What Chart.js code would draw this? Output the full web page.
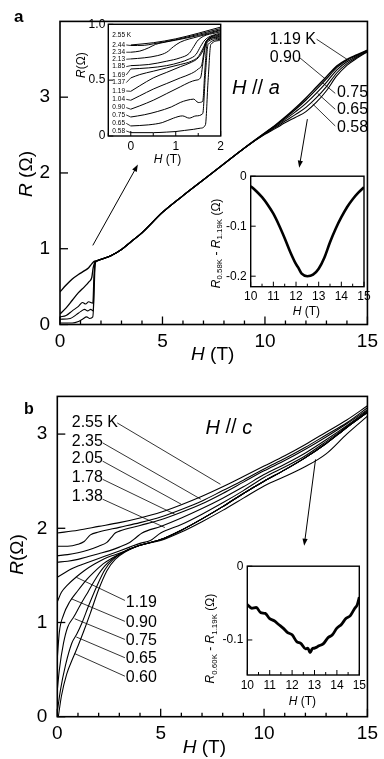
<!DOCTYPE html>
<html>
<head>
<meta charset="utf-8">
<script src="https://cdn.jsdelivr.net/npm/chart.js@4.4.0/dist/chart.umd.min.js"></script>
<style>
html, body { margin: 0; padding: 0; background: #fff; }
#fig { position: relative; width: 384px; height: 759px; overflow: hidden; background: #fff; }
#fig canvas { position: absolute; }
</style>
</head>
<body>
<div id="fig"></div>
<script>
// ---------- panel a, main plot (H // a) ----------
const aLowH_119 = [0, 0.3, 0.6, 0.9, 1.2, 1.4, 1.55, 1.65]
const aLowR_119 = [0.43, 0.52, 0.6, 0.66, 0.71, 0.75, 0.8, 0.83]
const aLowH_090 = [0, 0.3, 0.6, 0.9, 1.2, 1.4, 1.55, 1.62, 1.7]
const aLowR_090 = [0.14, 0.22, 0.32, 0.42, 0.5, 0.56, 0.62, 0.75, 0.82]
const aLowH_075 = [0, 0.3, 0.6, 0.9, 1.1, 1.25, 1.4, 1.6, 1.65, 1.7]
const aLowR_075 = [0.1, 0.12, 0.18, 0.24, 0.29, 0.27, 0.3, 0.28, 0.6, 0.8]
const aLowH_065 = [0, 0.5, 0.8, 1.0, 1.2, 1.35, 1.5, 1.62, 1.66, 1.72]
const aLowR_065 = [0.07, 0.08, 0.13, 0.17, 0.2, 0.18, 0.2, 0.18, 0.55, 0.82]
const aLowH_058 = [0, 0.6, 0.9, 1.1, 1.3, 1.45, 1.6, 1.65, 1.72]
const aLowR_058 = [0.02, 0.02, 0.04, 0.07, 0.1, 0.08, 0.1, 0.3, 0.8]
// common part, all temperatures
const aMidH = [1.8, 2.0, 2.5, 3, 3.5, 4, 5, 6, 7, 8, 9]
const aMidR = [0.84, 0.86, 0.91, 0.99, 1.1, 1.21, 1.48, 1.7, 1.91, 2.12, 2.33]
// high field split
const aHighH = [10, 10.5, 11, 11.5, 12, 12.5, 13, 13.5, 14, 14.5, 15]
const aHighR_119 = [2.53, 2.63, 2.74, 2.86, 2.99, 3.13, 3.27, 3.41, 3.5, 3.56, 3.62]
const aHighR_090 = [2.527, 2.623, 2.729, 2.841, 2.963, 3.1, 3.242, 3.39, 3.488, 3.553, 3.617]
const aHighR_075 = [2.522, 2.612, 2.71, 2.81, 2.919, 3.05, 3.196, 3.358, 3.467, 3.541, 3.611]
const aHighR_065 = [2.516, 2.599, 2.688, 2.773, 2.866, 2.99, 3.14, 3.319, 3.442, 3.527, 3.605]
const aHighR_058 = [2.51, 2.585, 2.665, 2.735, 2.81, 2.93, 3.085, 3.28, 3.42, 3.515, 3.6]
const aLabels = ['1.19 K', '0.90', '0.75', '0.65', '0.58']

// ---------- panel a, low-field inset ----------
const inTemps = ['2.55 K', '2.44', '2.34', '2.13', '1.85', '1.69', '1.37', '1.19', '1.04', '0.90', '0.75', '0.65', '0.58']
const inLabelR = [0.905, 0.815, 0.75, 0.687, 0.621, 0.547, 0.478, 0.403, 0.328, 0.254, 0.188, 0.113, 0.045]
const inH = [
  [0, 0.5, 1, 1.5, 2],
  [0, 0.3, 0.5, 1, 1.5, 2],
  [0, 0.2, 0.4, 0.55, 0.7, 1, 1.5, 2],
  [0, 0.3, 0.6, 0.8, 0.95, 1.1, 1.5, 2],
  [0, 0.4, 0.8, 1.1, 1.3, 1.4, 1.5, 2],
  [0, 0.4, 0.8, 1.1, 1.3, 1.45, 1.55, 1.65, 2],
  [0, 0.2, 0.5, 0.8, 1.1, 1.35, 1.5, 1.6, 1.7, 2],
  [0, 0.2, 0.5, 0.8, 1.1, 1.35, 1.5, 1.6, 1.68, 2],
  [0, 0.2, 0.5, 0.8, 1.1, 1.35, 1.5, 1.58, 1.64, 1.7, 2],
  [0, 0.2, 0.5, 0.8, 1.1, 1.3, 1.45, 1.55, 1.62, 1.68, 2],
  [0, 0.3, 0.6, 0.9, 1.1, 1.25, 1.4, 1.5, 1.6, 1.65, 1.7, 2],
  [0, 0.4, 0.7, 0.95, 1.15, 1.3, 1.45, 1.6, 1.66, 1.72, 2],
  [0, 0.5, 0.8, 1.0, 1.2, 1.4, 1.55, 1.66, 1.72, 1.78, 2]
]
const inR = [
  [0.815, 0.835, 0.87, 0.92, 0.975],
  [0.81, 0.812, 0.825, 0.862, 0.91, 0.962],
  [0.75, 0.76, 0.79, 0.82, 0.835, 0.858, 0.9, 0.952],
  [0.69, 0.7, 0.72, 0.75, 0.8, 0.84, 0.89, 0.945],
  [0.63, 0.64, 0.67, 0.7, 0.74, 0.8, 0.86, 0.935],
  [0.6, 0.61, 0.63, 0.66, 0.69, 0.73, 0.8, 0.86, 0.925],
  [0.52, 0.55, 0.58, 0.61, 0.64, 0.67, 0.71, 0.78, 0.86, 0.915],
  [0.4, 0.45, 0.52, 0.57, 0.62, 0.66, 0.7, 0.76, 0.85, 0.905],
  [0.32, 0.36, 0.42, 0.47, 0.52, 0.56, 0.6, 0.64, 0.78, 0.85, 0.895],
  [0.24, 0.27, 0.32, 0.38, 0.44, 0.48, 0.5, 0.52, 0.7, 0.85, 0.885],
  [0.17, 0.19, 0.22, 0.26, 0.3, 0.32, 0.33, 0.3, 0.31, 0.6, 0.84, 0.875],
  [0.09, 0.1, 0.12, 0.16, 0.18, 0.16, 0.18, 0.2, 0.55, 0.82, 0.865],
  [0.03, 0.03, 0.035, 0.04, 0.05, 0.06, 0.07, 0.1, 0.5, 0.82, 0.855]
]

// ---------- panel a, difference inset ----------
const dAH = [10, 10.25, 10.5, 10.75, 11, 11.25, 11.5, 11.75, 12, 12.1, 12.25, 12.5, 12.75, 13, 13.25, 13.5, 13.75, 14, 14.25, 14.5, 14.75, 15]
const dAR = [-0.02, -0.03, -0.042, -0.057, -0.075, -0.098, -0.124, -0.152, -0.176, -0.183, -0.195, -0.2, -0.197, -0.185, -0.163, -0.132, -0.105, -0.082, -0.062, -0.046, -0.033, -0.022]

// ---------- panel b, main plot (H // c) ----------
const bH255 = [0, 1, 2, 3, 4, 5, 6, 7, 8, 9, 10, 11, 12, 13, 14, 15]
const bR255 = [1.95, 1.98, 2.02, 2.06, 2.11, 2.17, 2.25, 2.34, 2.44, 2.55, 2.66, 2.77, 2.89, 3.02, 3.15, 3.3]
const bH235 = [0, 0.5, 1, 1.3, 1.6, 2, 3, 4, 5, 6, 7, 8, 9, 10, 11, 12, 13, 14, 15]
const bR235 = [1.81, 1.81, 1.83, 1.86, 1.93, 1.96, 2.01, 2.06, 2.12, 2.2, 2.29, 2.4, 2.51, 2.63, 2.74, 2.86, 2.99, 3.12, 3.28]
const bH205 = [0, 0.5, 1, 1.5, 2, 2.4, 2.6, 2.8, 3, 4, 5, 6, 7, 8, 9, 10, 11, 12, 13, 14, 15]
const bR205 = [1.71, 1.72, 1.74, 1.77, 1.81, 1.85, 1.9, 1.95, 1.97, 2.03, 2.09, 2.17, 2.26, 2.37, 2.49, 2.61, 2.72, 2.84, 2.97, 3.11, 3.26]
const bH178 = [0, 0.5, 1, 1.5, 2, 2.5, 3, 3.5, 3.8, 4.1, 5, 6, 7, 8, 9, 10, 11, 12, 13, 14, 15]
const bR178 = [1.64, 1.65, 1.67, 1.7, 1.73, 1.76, 1.8, 1.85, 1.9, 1.95, 2.02, 2.11, 2.21, 2.32, 2.44, 2.57, 2.68, 2.8, 2.94, 3.09, 3.25]
const bH138 = [0, 0.3, 0.6, 1, 1.5, 2, 2.5, 3, 3.5, 4, 4.5, 5, 6, 7, 8, 9, 10, 11, 12, 13, 14, 15]
const bR138 = [1.48, 1.52, 1.56, 1.6, 1.64, 1.68, 1.72, 1.76, 1.8, 1.84, 1.87, 1.95, 2.04, 2.15, 2.27, 2.4, 2.54, 2.65, 2.77, 2.92, 3.08, 3.24]
const bH119 = [0, 0.2, 0.5, 0.9, 1.3, 1.8, 2.3, 2.8, 3.3, 4]
const bR119 = [1.22, 1.32, 1.4, 1.48, 1.55, 1.62, 1.68, 1.72, 1.76, 1.82]
const bH090 = [0, 0.1, 0.3, 0.6, 1, 1.4, 1.8, 2.2, 2.7, 3.3, 4]
const bR090 = [0.62, 0.9, 1.08, 1.22, 1.34, 1.45, 1.54, 1.62, 1.69, 1.76, 1.82]
const bH075 = [0, 0.1, 0.3, 0.5, 0.8, 1.1, 1.5, 1.9, 2.3, 2.7, 3.3, 4]
const bR075 = [0.28, 0.5, 0.78, 0.95, 1.06, 1.18, 1.33, 1.48, 1.6, 1.68, 1.76, 1.82]
const bH065 = [0, 0.15, 0.4, 0.7, 0.95, 1.2, 1.5, 1.9, 2.3, 2.7, 3.3, 4]
const bR065 = [0.05, 0.28, 0.55, 0.78, 0.88, 1.0, 1.17, 1.38, 1.56, 1.67, 1.76, 1.82]
const bH060 = [0.05, 0.2, 0.45, 0.75, 1.0, 1.3, 1.6, 2.0, 2.4, 2.8, 3.3, 4]
const bR060 = [0, 0.22, 0.45, 0.62, 0.75, 0.92, 1.1, 1.35, 1.55, 1.67, 1.75, 1.82]
// common high-field band for T <= 1.19 K
const bBandH = [5, 6, 7, 8, 9, 10, 11, 12, 13, 14, 15]
const bBandR = [1.88, 1.98, 2.1, 2.23, 2.37, 2.5, 2.62, 2.75, 2.9, 3.07, 3.23]
const bTailR060 = [1.87, 1.96, 2.07, 2.19, 2.32, 2.45, 2.55, 2.655, 2.79, 3.0, 3.19]
const bLabelsHi = ['2.55 K', '2.35', '2.05', '1.78', '1.38']
const bLabelsLo = ['1.19', '0.90', '0.75', '0.65', '0.60']

// ---------- panel b, difference inset ----------
const dBH = [10.0, 10.2, 10.4, 10.6, 10.8, 11.0, 11.2, 11.4, 11.6, 11.8, 12.0, 12.2, 12.4, 12.6, 12.7, 12.8, 12.9, 13.0, 13.2, 13.4, 13.6, 13.8, 14.0, 14.2, 14.4, 14.6, 14.8, 14.9, 15.0]
const dBR = [-0.052, -0.057, -0.056, -0.063, -0.064, -0.071, -0.074, -0.079, -0.084, -0.09, -0.093, -0.102, -0.105, -0.112, -0.111, -0.117, -0.112, -0.111, -0.108, -0.105, -0.097, -0.093, -0.084, -0.079, -0.071, -0.067, -0.057, -0.053, -0.042]

// tick values
const mainXTicks = [0, 5, 10, 15]
const mainXMinor = [1, 2, 3, 4, 6, 7, 8, 9, 11, 12, 13, 14]
const mainYTicks = [0, 1, 2, 3]
const inAXTicks = [0, 1, 2]
const inAXMinor = [-0.5, 0.5, 1.5]
const inAYTicks = [0, 0.5, 1.0]
const diffXTicks = [10, 11, 12, 13, 14, 15]
const diffXMinor = [10.5, 11.5, 12.5, 13.5, 14.5]
const diffAYTicks = [0, -0.1, -0.2]
const diffBYTicks = [0, -0.1]

const FONT = '"Liberation Sans", Arial, Helvetica, sans-serif'
Chart.defaults.font.family = FONT
Chart.defaults.color = '#000'

function pts(H, R) { return H.map((h, i) => ({x: h, y: R[i]})) }
function ds(H, R, w) {
  return {data: pts(H, R), borderColor: '#000', borderWidth: w, pointRadius: 0,
    fill: false, cubicInterpolationMode: 'monotone'}
}

// text with italics / subscripts
function rich(ctx, segs, size, x, y, rot, align) {
  ctx.save()
  ctx.translate(x, y)
  ctx.rotate(rot || 0)
  const parts = segs.map(s => {
    const sz = s.sub ? size * 0.66 : size
    const f = (s.i ? 'italic ' : '') + (s.b ? 'bold ' : '') + sz + 'px ' + FONT
    ctx.font = f
    return {s: s, f: f, w: ctx.measureText(s.t).width, dy: s.sub ? size * 0.3 : 0}
  })
  const total = parts.reduce((a, p) => a + p.w, 0)
  let cx = align === 'left' ? 0 : (align === 'right' ? -total : -total / 2)
  ctx.textBaseline = 'middle'
  ctx.textAlign = 'left'
  ctx.fillStyle = '#000'
  parts.forEach(p => { ctx.font = p.f; ctx.fillText(p.s.t, cx, p.dy); cx += p.w })
  ctx.restore()
}
const txt = t => [{t: t}]
const HT = [{t: 'H', i: true}, {t: ' (T)'}]

const cfgs = {}
const deco = {
  id: 'deco',
  beforeDatasetsDraw(chart) {
    const L = cfgs[chart.canvas.id]
    if (!L.white) return
    const a = chart.chartArea, ctx = chart.ctx
    ctx.save(); ctx.fillStyle = '#fff'
    ctx.fillRect(a.left, a.top, a.right - a.left, a.bottom - a.top)
    ctx.restore()
  },
  afterDraw(chart) {
    const L = cfgs[chart.canvas.id]
    const ctx = chart.ctx, a = chart.chartArea
    const X = v => chart.scales.x.getPixelForValue(v)
    const Y = v => chart.scales.y.getPixelForValue(v)
    ctx.save()
    ctx.strokeStyle = '#000'
    ctx.fillStyle = '#000'
    ctx.lineWidth = L.frame
    ctx.strokeRect(a.left, a.top, a.right - a.left, a.bottom - a.top)
    ctx.lineWidth = L.tickW
    function tk(vals, len, isX) {
      (vals || []).forEach(v => {
        ctx.beginPath()
        if (isX) { const p = X(v); ctx.moveTo(p, a.bottom); ctx.lineTo(p, a.bottom - len) }
        else { const p = Y(v); ctx.moveTo(a.left, p); ctx.lineTo(a.left + len, p) }
        ctx.stroke()
      })
    }
    tk(L.x.ticks, L.major, true); tk(L.x.minor, L.minor, true)
    tk(L.y.ticks, L.major, false); tk(L.y.minor, L.minor, false)
    // leader lines
    ctx.lineWidth = L.leadW || 0.8
    ;(L.leaders || []).forEach(l => {
      ctx.beginPath(); ctx.moveTo(X(l[0]), Y(l[1])); ctx.lineTo(X(l[2]), Y(l[3])); ctx.stroke()
    })
    // arrows
    ;(L.arrows || []).forEach(l => {
      const x1 = X(l[0]), y1 = Y(l[1]), x2 = X(l[2]), y2 = Y(l[3])
      const ang = Math.atan2(y2 - y1, x2 - x1), hl = 7, hw = 2.6
      ctx.lineWidth = 1
      ctx.beginPath(); ctx.moveTo(x1, y1)
      ctx.lineTo(x2 - hl * 0.8 * Math.cos(ang), y2 - hl * 0.8 * Math.sin(ang)); ctx.stroke()
      ctx.beginPath(); ctx.moveTo(x2, y2)
      ctx.lineTo(x2 - hl * Math.cos(ang) + hw * Math.sin(ang), y2 - hl * Math.sin(ang) - hw * Math.cos(ang))
      ctx.lineTo(x2 - hl * Math.cos(ang) - hw * Math.sin(ang), y2 - hl * Math.sin(ang) + hw * Math.cos(ang))
      ctx.closePath(); ctx.fill()
    })
    // labels in data units
    ;(L.texts || []).forEach(t => rich(ctx, t.s, t.size, X(t.x), Y(t.y), 0, 'left'))
    // axis titles, placed from the plot frame
    const xt = L.xTitle, yt = L.yTitle
    rich(ctx, xt.s, xt.size, (a.left + a.right) / 2 + xt.dx, a.bottom + xt.dy, 0, 'center')
    rich(ctx, yt.s, yt.size, a.left + yt.dx, (a.top + a.bottom) / 2 + yt.dy, -Math.PI / 2, 'center')
    if (L.letter) rich(ctx, [{t: L.letter.t, b: true}], L.letter.size, L.letter.x - L.box[0], L.letter.y - L.box[1], 0, 'left')
    ctx.restore()
  }
}

const fig = document.getElementById('fig')
function panel(id, L) {
  const c = document.createElement('canvas')
  c.id = id
  c.width = L.box[2]; c.height = L.box[3]
  c.style.left = L.box[0] + 'px'; c.style.top = L.box[1] + 'px'
  c.style.width = L.box[2] + 'px'; c.style.height = L.box[3] + 'px'
  fig.appendChild(c)
  cfgs[id] = L
  const [bl, bt, bw, bh] = L.box
  const [al, at, ar, ab] = L.area
  const axis = (A, isX) => ({
    type: 'linear', position: isX ? 'bottom' : 'left', min: A.min, max: A.max,
    grid: {display: false, drawTicks: false}, border: {display: false},
    afterBuildTicks: s => { s.ticks = A.ticks.map(v => ({value: v})) },
    afterFit: s => { if (isX) s.height = bt + bh - ab; else s.width = al - bl },
    ticks: {autoSkip: false, maxRotation: 0, padding: A.pad, color: '#000',
      font: {size: A.size, family: FONT}, callback: v => A.fmt ? A.fmt(v) : String(v)}
  })
  return new Chart(c, {
    type: 'line',
    data: {datasets: L.sets},
    options: {
      responsive: false, animation: false, devicePixelRatio: 1,
      layout: {padding: {left: 0, top: at - bt, right: bl + bw - ar, bottom: 0}},
      plugins: {legend: {display: false}, tooltip: {enabled: false}},
      scales: {x: axis(L.x, true), y: axis(L.y, false)}
    },
    plugins: [deco]
  })
}

// ---------- panel a ----------
panel('mainA', {
  box: [0, 0, 384, 372], area: [60, 11.7, 372.7, 324.5],
  x: {min: 0, max: 15, ticks: mainXTicks, minor: mainXMinor, pad: 6, size: 19},
  y: {min: 0, max: 4, ticks: mainYTicks, pad: 10, size: 19},
  frame: 1.6, tickW: 1.3, major: 8, minor: 4,
  sets: [
    ds([...aLowH_119, ...aMidH, ...aHighH], [...aLowR_119, ...aMidR, ...aHighR_119], 1.4),
    ds([...aLowH_090, ...aMidH, ...aHighH], [...aLowR_090, ...aMidR, ...aHighR_090], 1.3),
    ds([...aLowH_075, ...aMidH, ...aHighH], [...aLowR_075, ...aMidR, ...aHighR_075], 1.1),
    ds([...aLowH_065, ...aMidH, ...aHighH], [...aLowR_065, ...aMidR, ...aHighR_065], 1.1),
    ds([...aLowH_058, ...aMidH, ...aHighH], [...aLowR_058, ...aMidR, ...aHighR_058], 1.1)
  ],
  texts: [
    {s: txt(aLabels[0]), size: 16, x: 10.23, y: 3.756},
    {s: txt(aLabels[1]), size: 16, x: 10.23, y: 3.52},
    {s: txt(aLabels[2]), size: 16, x: 13.51, y: 3.057},
    {s: txt(aLabels[3]), size: 16, x: 13.51, y: 2.83},
    {s: txt(aLabels[4]), size: 16, x: 13.51, y: 2.605},
    {s: [{t: 'H', i: true}, {t: ' // '}, {t: 'a', i: true}], size: 20, x: 8.39, y: 3.11}
  ],
  leaders: [[12.52, 3.765, 14.0, 3.5], [11.7, 3.52, 12.95, 3.24], [13.43, 3.05, 12.81, 3.19],
    [13.43, 2.84, 12.57, 3.05], [13.43, 2.62, 12.33, 2.91]],
  arrows: [[1.6, 1.044, 3.8, 2.11], [12.07, 2.71, 11.67, 2.07]],
  xTitle: {s: HT, size: 19, dx: -1, dy: 30.5},
  yTitle: {s: [{t: 'R', i: true}, {t: ' (Ω)'}], size: 19, dx: -33, dy: 1},
  letter: {t: 'a', size: 17, x: 14, y: 17}
})

// ---------- panel b ----------
panel('mainB', {
  box: [0, 375, 384, 384], area: [57.3, 395, 372.7, 716.7],
  x: {min: 0, max: 15, ticks: mainXTicks, minor: mainXMinor, pad: 6, size: 19},
  y: {min: 0, max: 3.4, ticks: mainYTicks, pad: 10, size: 19},
  frame: 1.6, tickW: 1.3, major: 8, minor: 4,
  sets: [
    ds(bH255, bR255, 1.1), ds(bH235, bR235, 1.1), ds(bH205, bR205, 1.1),
    ds(bH178, bR178, 1.1), ds(bH138, bR138, 1.1),
    ds([...bH119, ...bBandH], [...bR119, ...bBandR], 1.1),
    ds([...bH090, ...bBandH], [...bR090, ...bBandR], 1.1),
    ds([...bH075, ...bBandH], [...bR075, ...bBandR], 1.1),
    ds([...bH065, ...bBandH], [...bR065, ...bBandR], 1.1),
    ds([...bH060, ...bBandH], [...bR060, ...bTailR060], 1.1)
  ],
  texts: [
    {s: txt(bLabelsHi[0]), size: 16, x: 0.7, y: 3.118},
    {s: txt(bLabelsHi[1]), size: 16, x: 0.7, y: 2.925},
    {s: txt(bLabelsHi[2]), size: 16, x: 0.7, y: 2.735},
    {s: txt(bLabelsHi[3]), size: 16, x: 0.7, y: 2.534},
    {s: txt(bLabelsHi[4]), size: 16, x: 0.7, y: 2.333},
    {s: txt(bLabelsLo[0]), size: 16, x: 3.31, y: 1.216},
    {s: txt(bLabelsLo[1]), size: 16, x: 3.31, y: 1.004},
    {s: txt(bLabelsLo[2]), size: 16, x: 3.31, y: 0.811},
    {s: txt(bLabelsLo[3]), size: 16, x: 3.31, y: 0.617},
    {s: txt(bLabelsLo[4]), size: 16, x: 3.31, y: 0.42},
    {s: [{t: 'H', i: true}, {t: ' // '}, {t: 'c', i: true}], size: 20, x: 7.17, y: 3.065}
  ],
  leaders: [[2.9, 3.118, 7.89, 2.467], [2.19, 2.907, 6.94, 2.309], [2.19, 2.713, 5.99, 2.256],
    [2.19, 2.52, 5.68, 2.15], [2.19, 2.309, 5.2, 2.008],
    [3.27, 1.234, 0.92, 1.48], [3.27, 1.012, 0.68, 1.252], [3.27, 0.82, 0.84, 1.04],
    [3.27, 0.626, 0.92, 0.846], [3.27, 0.43, 0.84, 0.67]],
  arrows: [[12.49, 2.731, 11.94, 1.815]],
  xTitle: {s: HT, size: 19, dx: -8, dy: 31.5},
  yTitle: {s: [{t: 'R', i: true}, {t: '(Ω)'}], size: 19, dx: -40, dy: -2},
  letter: {t: 'b', size: 16, x: 24, y: 410}
})

// ---------- inset: low field, panel a ----------
panel('insetA1', {
  box: [62, 10, 168, 160], area: [108.3, 24.3, 220.7, 136], white: true,
  x: {min: -0.5, max: 2, ticks: inAXTicks, minor: inAXMinor, pad: 3, size: 12},
  y: {min: 0, max: 1.0, ticks: inAYTicks, pad: 3, size: 12, fmt: v => v === 0 ? '0' : v.toFixed(1)},
  frame: 1.4, tickW: 1, major: 5, minor: 3, leadW: 0.8,
  sets: inH.map((H, i) => ds(H, inR[i], 1)),
  texts: inTemps.map((t, i) => ({s: txt(t), size: 6.5, x: -0.41, y: inLabelR[i]})),
  leaders: inTemps.slice(1).map((t, i) => [-0.1, inLabelR[i + 1], 0, inR[i + 1][0]]),
  xTitle: {s: HT, size: 12, dx: 3, dy: 24},
  yTitle: {s: [{t: 'R', i: true}, {t: '(Ω)'}], size: 12, dx: -27, dy: -15}
})

// ---------- inset: difference, panel a ----------
panel('insetA2', {
  box: [200, 165, 182, 157], area: [250.7, 176, 364, 286.7], white: true,
  x: {min: 10, max: 15, ticks: diffXTicks, minor: diffXMinor, pad: 3, size: 12},
  y: {min: -0.221, max: 0, ticks: diffAYTicks, pad: 4, size: 12, fmt: v => v === 0 ? '0' : v.toFixed(1)},
  frame: 1.4, tickW: 1, major: 5, minor: 3,
  sets: [ds(dAH, dAR, 2.6)],
  xTitle: {s: HT, size: 12, dx: -1, dy: 24.5},
  yTitle: {s: [{t: 'R', i: true}, {t: '0.58K', sub: true}, {t: ' - '}, {t: 'R', i: true}, {t: '1.19K', sub: true}, {t: ' (Ω)'}],
    size: 12, dx: -34, dy: 12}
})

// ---------- inset: difference, panel b ----------
panel('insetB2', {
  box: [195, 555, 185, 155], area: [247.3, 563.3, 359.3, 675], white: true,
  x: {min: 10, max: 15, ticks: diffXTicks, minor: diffXMinor, pad: 3, size: 12},
  y: {min: -0.1475, max: 0, ticks: diffBYTicks, pad: 4, size: 12, fmt: v => v === 0 ? '0' : v.toFixed(1)},
  frame: 1.4, tickW: 1, major: 5, minor: 3,
  sets: [ds(dBH, dBR, 2.8)],
  xTitle: {s: HT, size: 12, dx: -1, dy: 27},
  yTitle: {s: [{t: 'R', i: true}, {t: '0.60K', sub: true}, {t: ' - '}, {t: 'R', i: true}, {t: '1.19K', sub: true}, {t: ' (Ω)'}],
    size: 12, dx: -36.5, dy: 18}
})
</script>
</body>
</html>
